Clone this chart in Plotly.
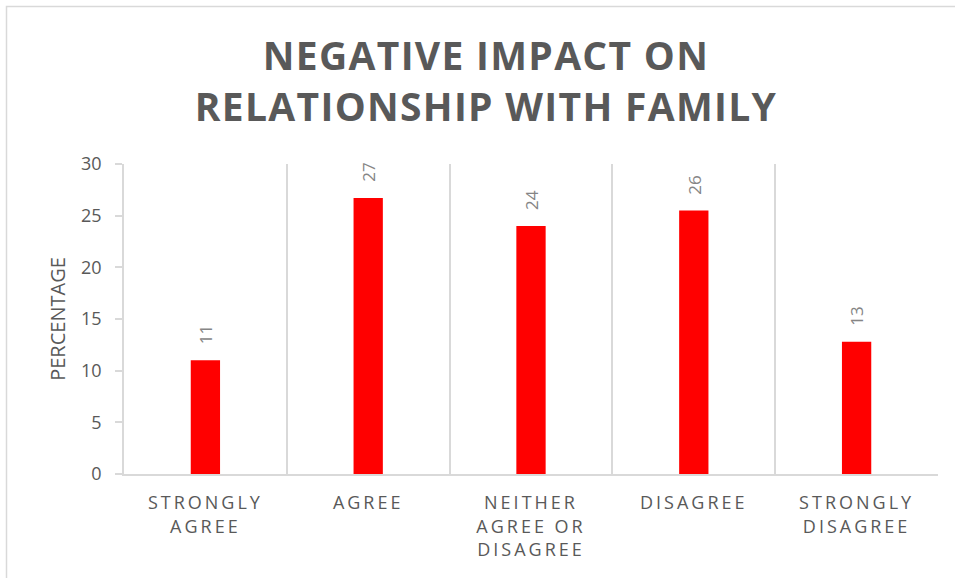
import plotly.graph_objects as go

# Survey responses and the share of respondents for each
categories = ["STRONGLY<br>AGREE", "AGREE", "NEITHER<br>AGREE OR<br>DISAGREE",
              "DISAGREE", "STRONGLY<br>DISAGREE"]
percentages = [11.0, 26.7, 24.0, 25.5, 12.8]
y_ticks = [0, 5, 10, 15, 20, 25, 30]

title_text = "NEGATIVE IMPACT ON<br>RELATIONSHIP WITH FAMILY"
y_title = "PERCENTAGE"

FONT = "Open Sans"
DARK = "#595959"
GRID = "#d9d9d9"

W, H = 955, 578
L, R, T, B = 124, 17, 164, 104
pw, ph = W - L - R, H - T - B


def spaced(text, px):
    """Wrap each line of a label in a span with extra letter spacing."""
    lines = text.split("<br>")
    return "<br>".join(
        f'<span style="letter-spacing:{px}px">{ln}</span>' for ln in lines
    )


fig = go.Figure(
    go.Bar(
        x=categories,
        y=percentages,
        marker=dict(color="#ff0000", line=dict(width=0)),
        width=0.18,
        hoverinfo="x+y",
    )
)

# Rounded value labels, rotated, sitting above each bar
for cat, val in zip(categories, percentages):
    fig.add_annotation(
        x=cat, y=val, xref="x", yref="y",
        text=f"{val:.0f}",
        textangle=-90,
        showarrow=False,
        yanchor="bottom",
        yshift=14,
        font=dict(family=FONT, size=17, color="#858585"),
    )

fig.update_layout(
    width=W,
    height=H,
    margin=dict(l=L, r=R, t=T, b=B),
    paper_bgcolor="white",
    plot_bgcolor="white",
    showlegend=False,
    title=dict(
        text=spaced(title_text, 1.3),
        font=dict(family=FONT, size=39, color=DARK, weight="bold"),
        x=486 / W,
        xanchor="center",
        y=1 - 70 / H,
        yanchor="middle",
    ),
    xaxis=dict(
        type="category",
        tickson="boundaries",
        showgrid=True,
        gridcolor=GRID,
        gridwidth=1.5,
        showline=True,
        linecolor=GRID,
        linewidth=1.5,
        ticks="",
        tickfont=dict(family=FONT, size=18, color=DARK),
        tickvals=categories,
        ticktext=[spaced(c, 3) for c in categories],
        ticklabelstandoff=12,
        zeroline=False,
    ),
    yaxis=dict(
        range=[0, 30],
        tickvals=y_ticks,
        showgrid=False,
        zeroline=False,
        showline=True,
        linecolor=GRID,
        linewidth=1.5,
        ticks="outside",
        ticklen=7,
        tickcolor=GRID,
        tickwidth=1.5,
        tickfont=dict(family=FONT, size=18, color=DARK),
        ticklabelstandoff=10,
        title=dict(text=y_title, font=dict(family=FONT, size=20, color=DARK),
                   standoff=10),
    ),
)

# Light frame around the whole chart area
fig.add_shape(
    type="rect",
    xref="paper", yref="paper",
    x0=(6.5 - L) / pw, x1=(W + 10 - L) / pw,
    y0=-(H + 10 - T - ph) / ph, y1=(T + ph - 6.5) / ph,
    line=dict(color=GRID, width=1.5),
    fillcolor="rgba(0,0,0,0)",
    layer="below",
)

fig.write_html("out.html")
